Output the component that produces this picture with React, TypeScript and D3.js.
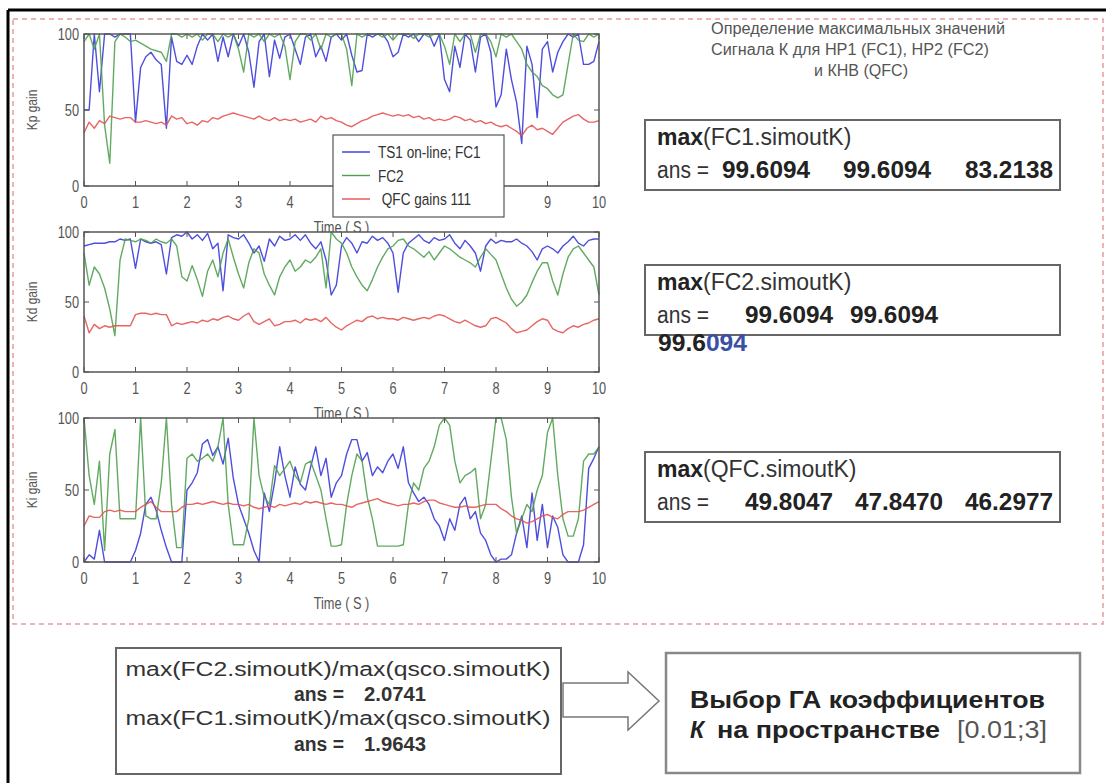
import React from 'react';
import * as d3 from 'd3';

// sample times (s)
const TIME = [
  0, 0.1, 0.2, 0.3, 0.4, 0.5, 0.6, 0.7, 0.8, 0.9,
  1, 1.1, 1.2, 1.3, 1.4, 1.5, 1.6, 1.7, 1.8, 1.9,
  2, 2.1, 2.2, 2.3, 2.4, 2.5, 2.6, 2.7, 2.8, 2.9,
  3, 3.1, 3.2, 3.3, 3.4, 3.5, 3.6, 3.7, 3.8, 3.9,
  4, 4.1, 4.2, 4.3, 4.4, 4.5, 4.6, 4.7, 4.8, 4.9,
  5, 5.1, 5.2, 5.3, 5.4, 5.5, 5.6, 5.7, 5.8, 5.9,
  6, 6.1, 6.2, 6.3, 6.4, 6.5, 6.6, 6.7, 6.8, 6.9,
  7, 7.1, 7.2, 7.3, 7.4, 7.5, 7.6, 7.7, 7.8, 7.9,
  8, 8.1, 8.2, 8.3, 8.4, 8.5, 8.6, 8.7, 8.8, 8.9,
  9, 9.1, 9.2, 9.3, 9.4, 9.5, 9.6, 9.7, 9.8, 9.9, 10,
];

// Kp gain
const KP_FC1 = [
  50, 50, 100, 62, 100, 100, 98, 100, 100, 100,
  42, 78, 85, 88, 83, 80, 38, 98, 82, 80,
  86, 80, 92, 100, 96, 100, 82, 98, 85, 100,
  92, 100, 88, 65, 95, 100, 72, 96, 84, 98,
  100, 90, 80, 98, 100, 85, 92, 82, 98, 100,
  96, 100, 86, 75, 76, 100, 98, 100, 100, 95,
  85, 88, 100, 98, 100, 95, 100, 100, 92, 100,
  70, 62, 92, 78, 100, 96, 75, 98, 100, 88,
  52, 60, 90, 70, 55, 28, 92, 80, 45, 90,
  95, 75, 88, 95, 100, 98, 100, 80, 80, 82, 95,
];
const KP_FC2 = [
  95, 100, 90, 100, 40, 15, 95, 100, 98, 95,
  96, 94, 92, 90, 89, 88, 82, 100, 100, 98,
  100, 98, 100, 96, 100, 100, 95, 100, 98, 100,
  90, 75, 100, 98, 100, 95, 100, 98, 100, 92,
  70, 95, 100, 100, 96, 100, 90, 100, 98, 100,
  100, 90, 66, 100, 98, 100, 100, 100, 98, 100,
  96, 100, 100, 100, 97, 100, 100, 98, 100, 100,
  92, 80, 100, 95, 100, 100, 88, 100, 100, 95,
  85, 100, 98, 100, 95, 90, 80, 75, 72, 66,
  64, 60, 58, 60, 80, 100, 96, 95, 100, 98, 100,
];
const KP_QFC = [
  35, 42, 38, 43, 41, 46, 45, 44, 45, 45,
  42, 42, 43, 42, 41, 42, 40, 46, 44, 45,
  41, 42, 40, 43, 42, 45, 44, 46, 47, 48,
  47, 46, 45, 44, 46, 44, 43, 45, 43, 44,
  43, 44, 42, 43, 44, 42, 46, 44, 45, 43,
  42, 40, 39, 41, 43, 44, 46, 47, 48, 47,
  46, 47, 46, 47, 45, 46, 44, 45, 43, 44,
  43, 44, 46, 45, 43, 44, 42, 43, 41, 42,
  40, 39, 40, 38, 36, 33, 38, 40, 37, 38,
  36, 34, 38, 42, 44, 46, 47, 44, 42, 42, 43,
];

// Kd gain
const KD_FC1 = [
  90, 91, 92, 92, 92, 93, 93, 95, 94, 95,
  74, 95, 93, 92, 93, 91, 70, 96, 98, 97,
  100, 95, 98, 94, 99, 88, 92, 58, 98, 96,
  95, 98, 92, 85, 90, 79, 95, 90, 97, 94,
  95, 98, 94, 98, 92, 88, 93, 80, 55, 62,
  90, 96, 92, 85, 93, 92, 97, 94, 96, 92,
  85, 57, 85, 92, 95, 98, 94, 92, 96, 94,
  95, 98, 92, 88, 94, 90, 85, 72, 90, 95,
  92, 94, 93, 93, 95, 92, 90, 86, 80, 88,
  90, 88, 85, 90, 93, 97, 92, 90, 94, 95, 95,
];
const KD_FC2 = [
  85, 62, 75, 70, 60, 45, 26, 80, 95, 94,
  93, 95, 94, 92, 95, 93, 92, 95, 90, 68,
  65, 76, 66, 54, 72, 80, 68, 85, 95, 82,
  70, 60, 78, 88, 85, 70, 62, 55, 68, 75,
  80, 72, 75, 80, 78, 82, 88, 60, 100, 95,
  92, 85, 75, 68, 62, 58, 66, 75, 82, 88,
  90, 94, 95, 90, 88, 85, 82, 86, 80, 85,
  90, 88, 85, 82, 80, 78, 75, 82, 88, 84,
  80, 70, 60, 52, 47, 50, 55, 64, 72, 78,
  78, 65, 55, 70, 82, 88, 90, 85, 80, 75, 55,
];
const KD_QFC = [
  40, 28, 34, 31, 33, 32, 33, 33, 33, 33,
  41, 42, 42, 41, 42, 41, 41, 33, 35, 34,
  35, 36, 35, 37, 36, 38, 37, 39, 40, 38,
  37, 40, 42, 36, 34, 36, 38, 33, 34, 36,
  36, 37, 35, 38, 37, 38, 36, 39, 35, 32,
  30, 33, 35, 37, 36, 39, 40, 38, 39, 38,
  38, 37, 39, 38, 37, 38, 39, 38, 40, 41,
  40, 38, 36, 35, 37, 35, 33, 32, 33, 38,
  39, 37, 35, 31, 28, 29, 30, 33, 36, 38,
  37, 31, 29, 28, 31, 33, 32, 34, 35, 37, 38,
];

// Ki gain
const KI_FC1 = [
  0, 5, 2, 22, 0, 0, 0, 0, 0, 0,
  8, 20, 40, 45, 36, 22, 10, 0, 0, 0,
  50, 55, 62, 82, 85, 74, 80, 68, 86, 58,
  40, 30, 20, 8, 0, 48, 35, 55, 80, 60,
  45, 66, 54, 50, 66, 80, 60, 72, 45, 55,
  60, 75, 85, 85, 70, 76, 60, 66, 62, 70,
  75, 65, 80, 55, 48, 42, 45, 40, 30, 25,
  15, 30, 22, 40, 45, 30, 35, 20, 15, 5,
  0, 2, 2, 5, 20, 32, 10, 48, 15, 40,
  10, 32, 24, 5, 0, 0, 0, 12, 65, 72, 80,
];
const KI_FC2 = [
  100, 60, 40, 70, 8, 75, 92, 30, 30, 30,
  30, 100, 32, 30, 30, 55, 100, 40, 10, 10,
  72, 75, 70, 72, 75, 70, 80, 100, 40, 12,
  12, 12, 30, 100, 60, 45, 40, 67, 60, 65,
  70, 60, 55, 68, 70, 60, 50, 30, 11, 11,
  12, 40, 60, 75, 70, 45, 30, 11, 11, 11,
  11, 11, 12, 40, 55, 50, 65, 70, 80, 95,
  100, 95, 70, 55, 60, 62, 65, 30, 40, 70,
  100, 100, 85, 45, 20, 30, 40, 35, 50, 60,
  90, 100, 60, 30, 18, 18, 30, 70, 75, 75, 80,
];
const KI_QFC = [
  25, 32, 31, 31, 35, 36, 35, 36, 35, 35,
  35, 38, 40, 42, 38, 35, 35, 35, 35, 38,
  40, 40, 41, 40, 41, 42, 41, 40, 41, 40,
  40, 39, 40, 38, 37, 38, 39, 38, 40, 39,
  40, 41, 40, 42, 41, 42, 41, 40, 41, 40,
  40, 39, 38, 40, 41, 42, 43, 44, 42, 41,
  40, 39, 40, 40, 41, 40, 42, 43, 43, 41,
  40, 39, 38, 38, 39, 38, 38, 39, 40, 40,
  40, 37, 35, 32, 30, 29, 27, 28, 30, 32,
  33, 31, 30, 33, 35, 35, 35, 36, 38, 40, 42,
];

const X_TICKS = [0, 1, 2, 3, 4, 5, 6, 7, 8, 9, 10];
const Y_TICKS = [0, 50, 100];
const Y_TITLES = ['Kp gain', 'Kd gain', 'Ki gain'];
const X_TITLE = 'Time ( S )';
const LEGEND_LABELS = ['TS1 on-line; FC1', 'FC2', ' QFC gains 111'];

const TITLE_LINES = [
  'Определение максимальных значений',
  'Сигнала К для НР1 (FC1), НР2 (FC2)',
  'и КНВ (QFC)',
];

const COLORS = ['#3636da', '#4c9e4c', '#e4504c'];
const SANS = "'Liberation Sans', Arial, sans-serif";
const NARROW = "'Liberation Sans Narrow', 'Arial Narrow', 'Liberation Sans', Arial, sans-serif";

const PANELS = [
  { top: 34, bottom: 186, title: Y_TITLES[0], series: [KP_FC1, KP_FC2, KP_QFC] },
  { top: 232, bottom: 372, title: Y_TITLES[1], series: [KD_FC1, KD_FC2, KD_QFC] },
  { top: 418, bottom: 562, title: Y_TITLES[2], series: [KI_FC1, KI_FC2, KI_QFC] },
];

// legend box (panel 1), x range used to hide the tick labels it covers
const LEG = { x: 333, y: 135, w: 171, h: 82 };

// narrow-looking label: regular font squeezed horizontally
function Narrow({ x, y, anchor = 'middle', size = 16, fill = '#555', children, rotate = 0 }: any) {
  return (
    <text transform={`translate(${x},${y}) rotate(${rotate}) scale(0.8,1)`} textAnchor={anchor}
      fontSize={size} fill={fill} fontFamily={NARROW} style={{ whiteSpace: 'pre' }}>{children}</text>
  );
}

function Panel({ top, bottom, title, series, legend }: any) {
  const x = d3.scaleLinear().domain([0, 10]).range([84, 599]);
  const y = d3.scaleLinear().domain([0, 100]).range([bottom, top]);
  const line = d3.line<number>().x((_, i) => x(TIME[i])).y(d => y(d));
  const axisColor = '#555';
  const hidden = (t: number) => legend && x(t) > LEG.x - 6 && x(t) < LEG.x + LEG.w + 6;
  return (
    <g>
      <rect x={x(0)} y={y(100)} width={x(10) - x(0)} height={y(0) - y(100)} fill="#fff" />
      {series.map((s: number[], i: number) => (
        <path key={i} d={line(s) || ''} fill="none" stroke={COLORS[i]} strokeWidth={1.4}
          strokeLinejoin="round" opacity={0.88} />
      ))}
      <rect x={x(0)} y={y(100)} width={x(10) - x(0)} height={y(0) - y(100)} fill="none"
        stroke={axisColor} strokeWidth={1.5} />
      {X_TICKS.map(t => (
        <g key={t}>
          <line x1={x(t)} x2={x(t)} y1={y(0)} y2={y(0) - 5} stroke={axisColor} />
          <line x1={x(t)} x2={x(t)} y1={y(100)} y2={y(100) + 5} stroke={axisColor} />
          {!hidden(t) && <Narrow x={x(t)} y={y(0) + 22}>{String(t)}</Narrow>}
        </g>
      ))}
      {Y_TICKS.map(v => (
        <g key={v}>
          <line x1={x(0)} x2={x(0) + 5} y1={y(v)} y2={y(v)} stroke={axisColor} />
          <line x1={x(10)} x2={x(10) - 5} y1={y(v)} y2={y(v)} stroke={axisColor} />
          <Narrow x={79} y={y(v) + 6} anchor="end">{String(v)}</Narrow>
        </g>
      ))}
      <Narrow x={37} y={(top + bottom) / 2} rotate={-90} size={15}>{title}</Narrow>
      <Narrow x={(x(0) + x(10)) / 2} y={bottom + 47} size={16}>{X_TITLE}</Narrow>
      {legend && (
        <g>
          <rect x={LEG.x} y={LEG.y} width={LEG.w} height={LEG.h} fill="#fff" stroke="#555" strokeWidth={1.2} />
          {LEGEND_LABELS.map((lab, i) => (
            <g key={lab}>
              <line x1={342} x2={370} y1={152 + i * 23.5} y2={152 + i * 23.5} stroke={COLORS[i]} strokeWidth={1.4} />
              <Narrow x={378} y={152 + i * 23.5 + 6} anchor="start" size={17} fill="#333">{lab}</Narrow>
            </g>
          ))}
        </g>
      )}
    </g>
  );
}

function ResultBox({ top, name, values, starts, overflow }: any) {
  return (
    <g fontFamily={SANS} fontSize={23}>
      <rect x={645} y={top} width={415} height={70} fill="#fff" stroke="#666" strokeWidth={2} />
      <text x={657} y={top + 25} fill="#333">
        <tspan fontWeight="bold" fill="#222">max</tspan>
        <tspan>{`(${name}.simoutK)`}</tspan>
      </text>
      <text x={657} y={top + 58} fill="#333" textLength={52} lengthAdjust="spacingAndGlyphs">ans =</text>
      {values.map((v: string, i: number) => (
        <text key={i} x={starts[i]} y={top + 58} fontWeight="bold" fill="#222"
          textLength={88} lengthAdjust="spacingAndGlyphs">{v}</text>
      ))}
      {overflow && (
        <text x={658} y={top + 86} fontWeight="bold" fill="#222" textLength={89}
          lengthAdjust="spacingAndGlyphs">
          <tspan>99.6</tspan><tspan fill="#3a4fa8">094</tspan>
        </text>
      )}
    </g>
  );
}

export default function App() {
  return (
    <svg width={1106} height={783} style={{ position: 'absolute', left: 0, top: 0, background: '#fff' }}>
      <rect x={0} y={0} width={1106} height={783} fill="#fff" />
      <line x1={8} x2={1106} y1={10} y2={10} stroke="#000" strokeWidth={3} />
      <line x1={8} x2={8} y1={10} y2={783} stroke="#000" strokeWidth={3} />
      <rect x={13} y={19} width={1090} height={605} fill="none" stroke="#e89aa0" strokeWidth={1.5}
        strokeDasharray="5 4" />

      {PANELS.map((p, i) => (
        <Panel key={i} {...p} legend={i === 0} />
      ))}

      <g fontFamily={SANS} fontSize={16} fill="#555" textAnchor="middle">
        <text x={858} y={34} textLength={294} lengthAdjust="spacingAndGlyphs">{TITLE_LINES[0]}</text>
        <text x={850} y={55} textLength={278} lengthAdjust="spacingAndGlyphs">{TITLE_LINES[1]}</text>
        <text x={861} y={76} textLength={94} lengthAdjust="spacingAndGlyphs">{TITLE_LINES[2]}</text>
      </g>

      <ResultBox top={120} name="FC1" values={['99.6094', '99.6094', '83.2138']} starts={[722, 843, 965]} />
      <ResultBox top={265} name="FC2" values={['99.6094', '99.6094']} starts={[745, 850]} overflow />
      <ResultBox top={452} name="QFC" values={['49.8047', '47.8470', '46.2977']} starts={[745, 855, 965]} />

      <g fontFamily={NARROW} fontSize={20} fill="#333">
        <rect x={116} y={648} width={445} height={126} fill="#fff" stroke="#666" strokeWidth={2} />
        <text x={338} y={676} textAnchor="middle" textLength={425} lengthAdjust="spacingAndGlyphs">
          max(FC2.simoutK)/max(qsco.simoutK)</text>
        <text x={294} y={701} fontWeight="bold" textLength={50} lengthAdjust="spacingAndGlyphs">ans =</text>
        <text x={364} y={701} fontWeight="bold" textLength={62} lengthAdjust="spacingAndGlyphs">2.0741</text>
        <text x={338} y={725} textAnchor="middle" textLength={425} lengthAdjust="spacingAndGlyphs">
          max(FC1.simoutK)/max(qsco.simoutK)</text>
        <text x={294} y={751} fontWeight="bold" textLength={50} lengthAdjust="spacingAndGlyphs">ans =</text>
        <text x={364} y={751} fontWeight="bold" textLength={62} lengthAdjust="spacingAndGlyphs">1.9643</text>
      </g>

      <path d="M563,683 L628,683 L628,672 L659,701 L628,730 L628,717 L563,717 Z" fill="#fff"
        stroke="#777" strokeWidth={1.5} />

      <g fontFamily={SANS} fontSize={23} fill="#222">
        <rect x={666} y={653} width={414} height={120} fill="#fff" stroke="#888" strokeWidth={2.5} />
        <text x={690} y={708} fontWeight="bold" textLength={355} lengthAdjust="spacingAndGlyphs">
          Выбор ГА коэффициентов</text>
        <text x={690} y={738} fontWeight="bold" fontStyle="italic">К</text>
        <text x={717} y={738} fontWeight="bold" textLength={223} lengthAdjust="spacingAndGlyphs">
          на пространстве</text>
        <text x={957} y={738} fill="#555" textLength={90} lengthAdjust="spacingAndGlyphs">[0.01;3]</text>
      </g>
    </svg>
  );
}
